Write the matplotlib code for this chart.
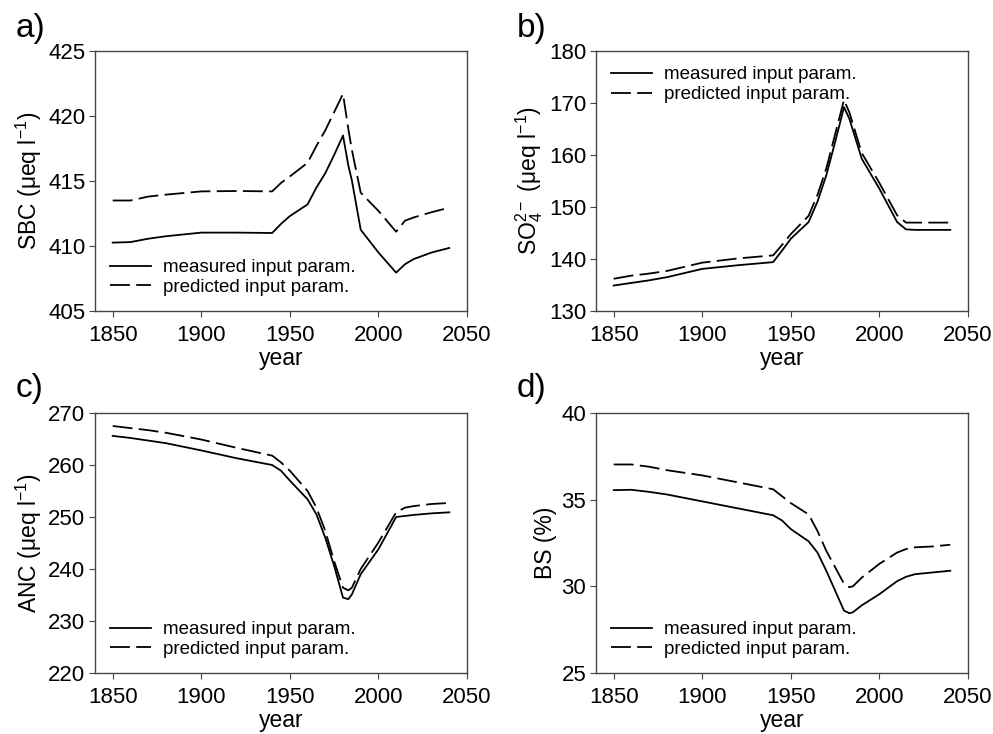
import matplotlib
matplotlib.use("Agg")
import matplotlib.pyplot as plt

plt.rcParams["font.family"] = ["Liberation Sans", "DejaVu Sans"]
plt.rcParams["mathtext.fontset"] = "custom"
plt.rcParams["mathtext.rm"] = "Liberation Sans"
plt.rcParams["mathtext.it"] = "Liberation Sans:italic"
plt.rcParams["mathtext.default"] = "regular"

# ---- data ----
years = [1850, 1860, 1870, 1880, 1900, 1920, 1940, 1945, 1950, 1960, 1965, 1970,
         1975, 1980, 1983, 1985, 1990, 2000, 2010, 2015, 2020, 2030, 2040]

sbc_meas = [410.26, 410.3, 410.56, 410.75, 411.03, 411.03, 411.0, 411.7, 412.3, 413.2,
            414.5, 415.6, 417.0, 418.5, 416.2, 415.05, 411.25, 409.5, 407.95, 408.6,
            409.0, 409.5, 409.85]
sbc_pred = [413.5, 413.5, 413.8, 413.95, 414.2, 414.23, 414.2, 414.85, 415.35, 416.4,
            417.7, 418.9, 420.3, 421.7, 419.0, 417.4, 414.1, 412.7, 411.1, 411.95,
            412.2, 412.6, 412.95]

so4_meas = [134.9, 135.4, 135.9, 136.5, 138.1, 138.8, 139.4, 141.6, 143.9, 147.1, 151.0,
            156.1, 162.5, 169.2, 167.0, 164.8, 159.3, 153.5, 147.1, 145.7, 145.6, 145.6,
            145.6]
so4_pred = [136.2, 136.8, 137.2, 137.7, 139.3, 140.1, 140.7, 142.7, 144.8, 148.3, 152.3,
            157.4, 164.0, 170.6, 168.2, 166.0, 160.4, 154.6, 148.4, 147.0, 147.0, 147.0,
            147.0]

anc_meas = [265.6, 265.2, 264.7, 264.2, 262.8, 261.3, 260.0, 258.9, 257.0, 253.4, 250.5,
            246.0, 240.6, 234.5, 234.2, 235.1, 239.0, 243.8, 250.0, 250.2, 250.4, 250.7,
            250.9]
anc_pred = [267.5, 267.1, 266.7, 266.2, 264.9, 263.3, 261.8, 260.5, 258.9, 255.0, 251.8,
            247.3, 241.5, 236.4, 235.9, 236.4, 240.0, 245.1, 250.9, 251.8, 252.1, 252.5,
            252.7]

bs_meas = [35.55, 35.57, 35.45, 35.3, 34.9, 34.5, 34.1, 33.8, 33.3, 32.6, 31.95, 30.9,
           29.75, 28.6, 28.45, 28.5, 28.9, 29.55, 30.3, 30.55, 30.7, 30.8, 30.9]
bs_pred = [37.03, 37.03, 36.9, 36.7, 36.4, 36.0, 35.6, 35.2, 34.8, 34.15, 33.2, 32.05,
           31.1, 30.15, 29.95, 30.0, 30.5, 31.3, 31.95, 32.15, 32.25, 32.3, 32.4]

panels = [
    ("a)", sbc_meas, sbc_pred, (405, 425), [405, 410, 415, 420, 425],
     r"SBC ($\mu$eq l$^{-1}$)", "lower left"),
    ("b)", so4_meas, so4_pred, (130, 180), [130, 140, 150, 160, 170, 180],
     r"SO$_4^{2-}$ ($\mu$eq l$^{-1}$)", "upper left"),
    ("c)", anc_meas, anc_pred, (220, 270), [220, 230, 240, 250, 260, 270],
     r"ANC ($\mu$eq l$^{-1}$)", "lower left"),
    ("d)", bs_meas, bs_pred, (25, 40), [25, 30, 35, 40],
     "BS (%)", "lower left"),
]

W, H = 993, 734
fig = plt.figure(figsize=(W / 100, H / 100), dpi=100)

# axes boxes in pixels: left, top, right, bottom
boxes = [(95, 51, 467, 311), (596, 51, 968, 311),
         (95, 413, 467, 673), (596, 413, 968, 673)]
letter_pos = [(16, 29), (517, 29), (16, 389), (517, 389)]

frame_col = "#444444"
for (letter, meas, pred, ylim, yticks, ylabel, loc), box, lp in zip(panels, boxes, letter_pos):
    l, t, r, b = box
    ax = fig.add_axes([l / W, 1 - b / H, (r - l) / W, (b - t) / H])
    ax.plot(years, meas, color="black", lw=1.3, label="measured input param.")
    ax.plot(years, pred, color="black", lw=1.3, dashes=(11, 3.5),
            label="predicted input param.")
    ax.set_xlim(1840, 2050)
    ax.set_ylim(*ylim)
    ax.set_xticks([1850, 1900, 1950, 2000, 2050])
    ax.set_yticks(yticks)
    ax.tick_params(labelsize=16, direction="out", length=4, color=frame_col,
                   top=False, right=False)
    ax.tick_params(axis="x", pad=6)
    ax.tick_params(axis="y", pad=3)
    for sp in ax.spines.values():
        sp.set_color(frame_col)
        sp.set_linewidth(1.0)
    ax.set_xlabel("year", fontsize=16.5, labelpad=1)
    ax.set_ylabel(ylabel, fontsize=16.5, labelpad=3)
    ax.legend(loc=loc, frameon=False, fontsize=13.5, handlelength=2.2,
              handletextpad=0.65, labelspacing=0.15, borderaxespad=0.4)
    fig.text(lp[0] / W, 1 - lp[1] / H, letter, fontsize=24, va="center", ha="left")

fig.savefig("out.png", dpi=100)
